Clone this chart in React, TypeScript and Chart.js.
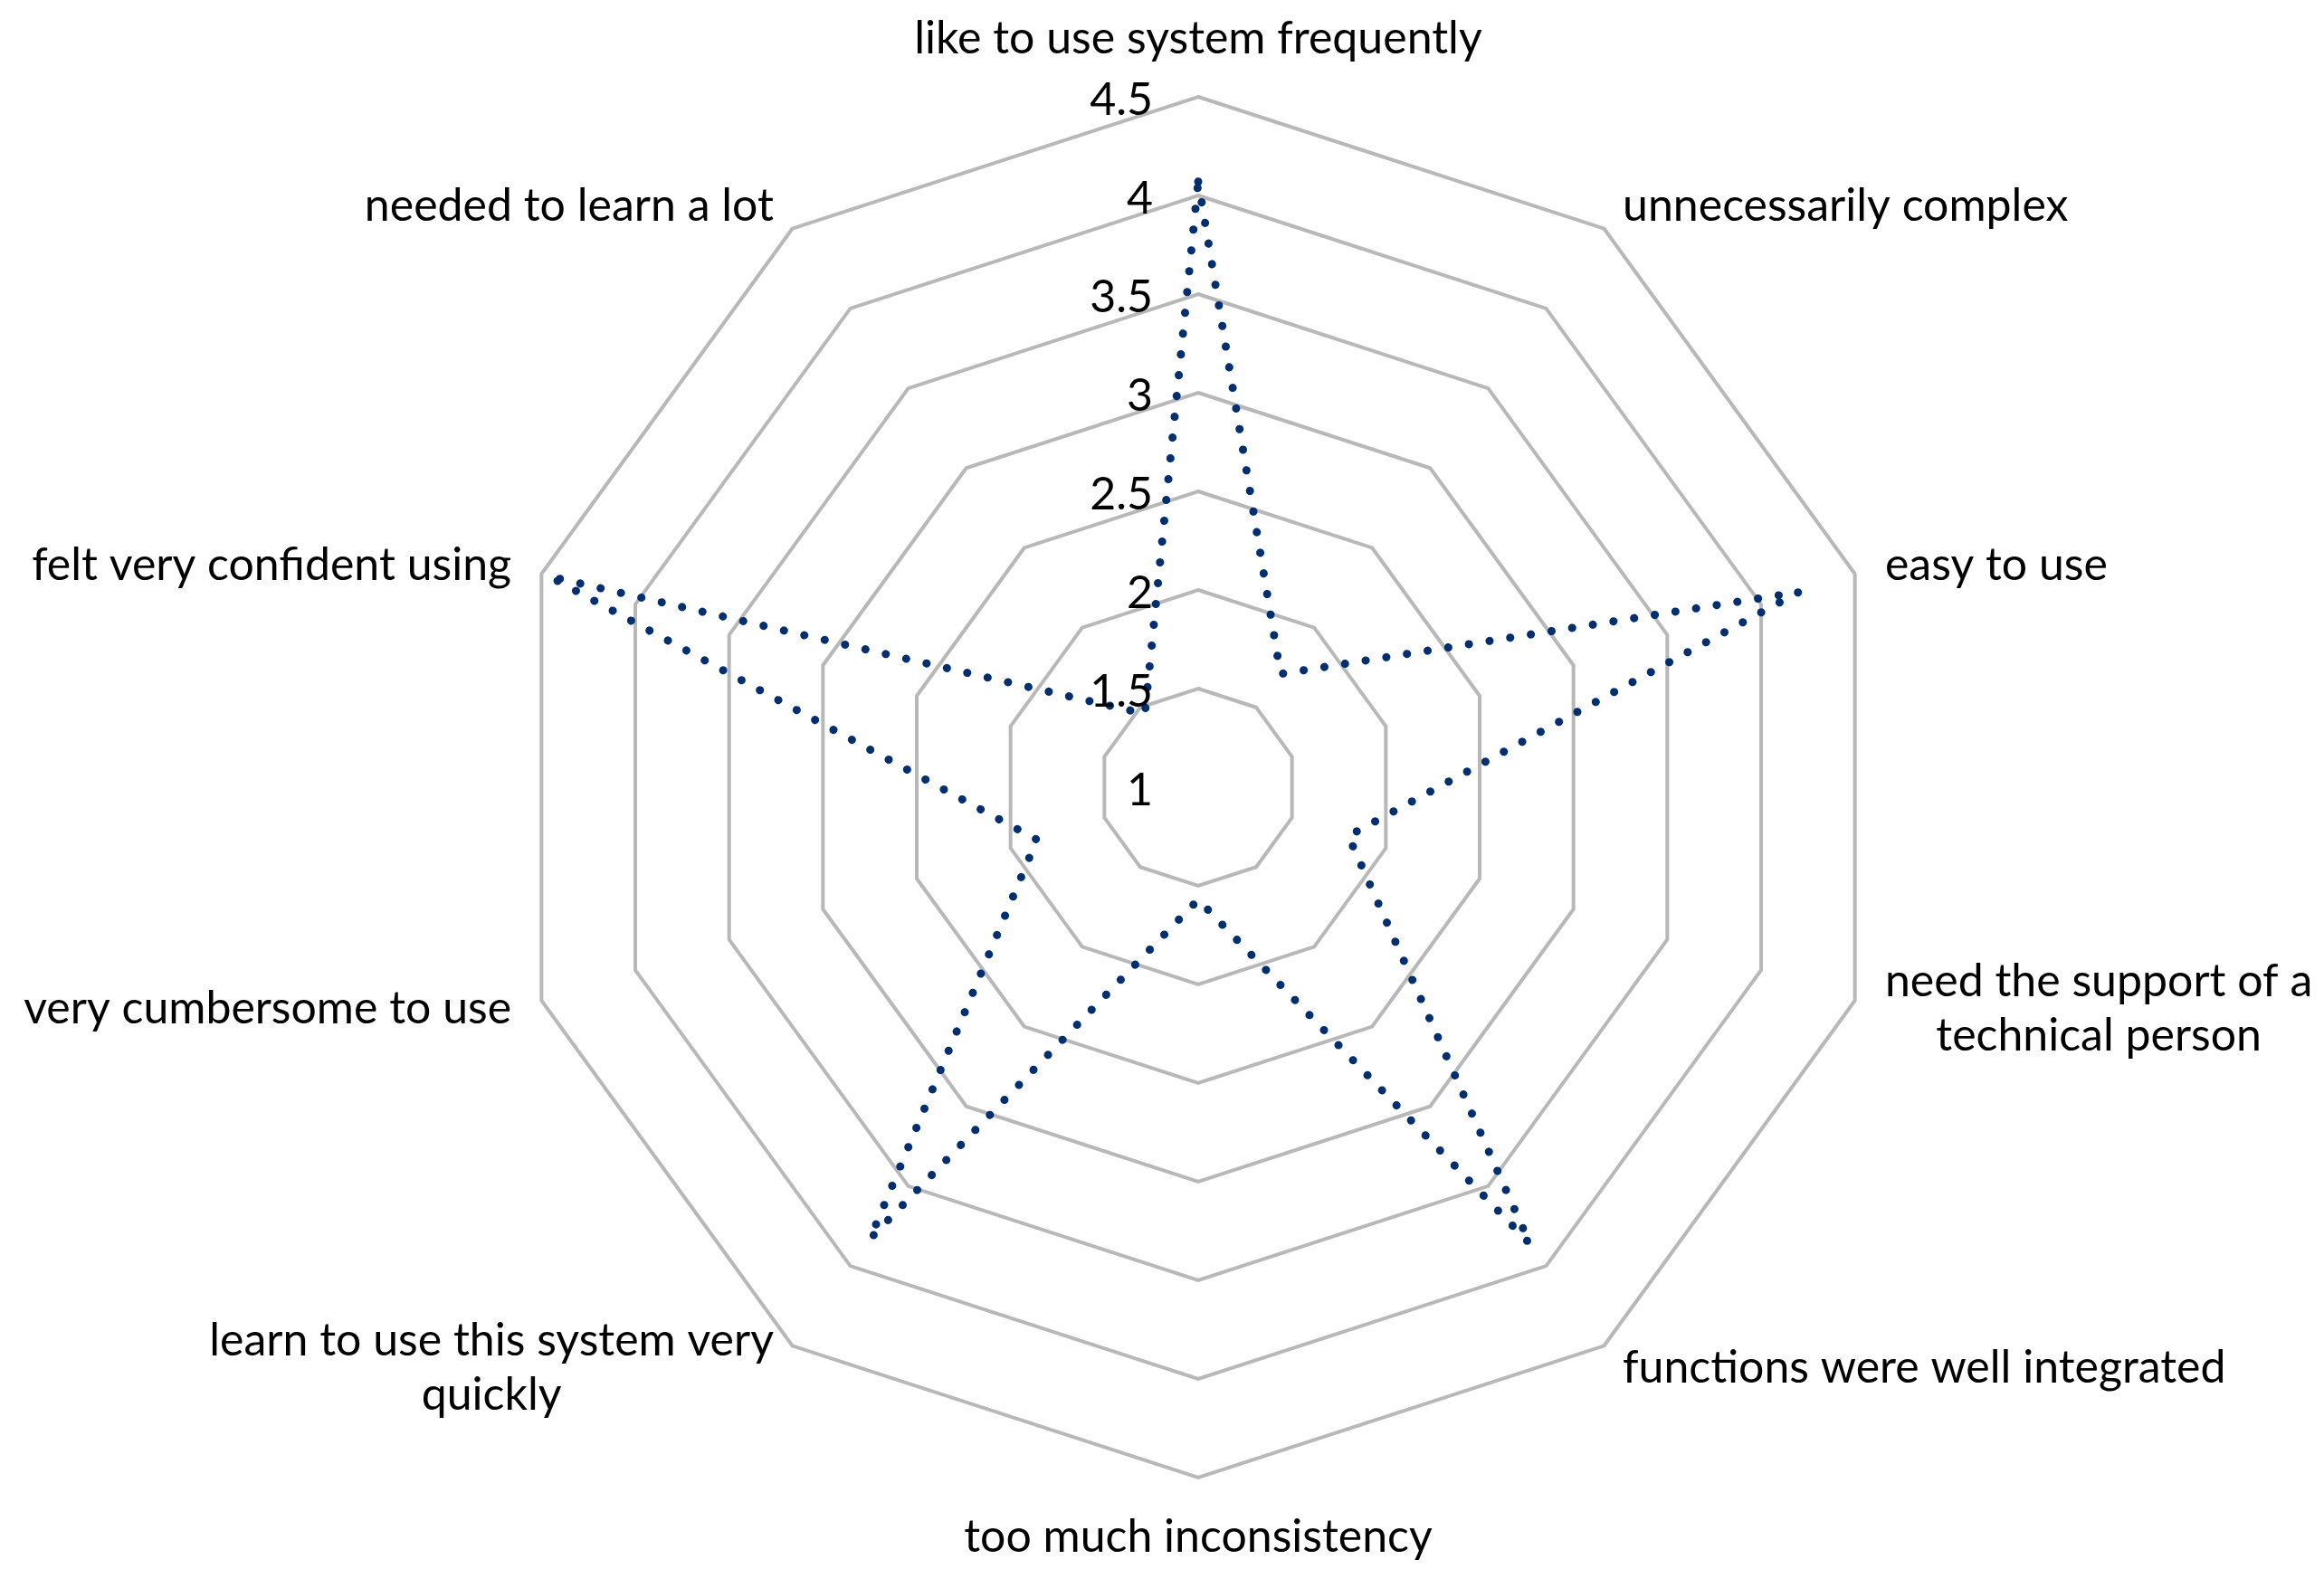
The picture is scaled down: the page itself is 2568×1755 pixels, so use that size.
import React, { useEffect, useRef } from 'react';
import { Chart, registerables } from 'chart.js';

Chart.register(...registerables);

// ---- data ----
const categories: (string | string[])[] = [
  'like to use system frequently',
  'unnecessarily complex',
  'easy to use',
  ['need the support of a', 'technical person'],
  'functions were well integrated',
  'too much inconsistency',
  ['learn to use this system very', 'quickly'],
  'very cumbersome to use',
  'felt very confident using',
  'needed to learn a lot',
];
const scores = [4.07, 1.71, 4.2, 1.8, 3.86, 1.57, 3.83, 1.86, 4.46, 1.46];
const tickValues = [1, 1.5, 2, 2.5, 3, 3.5, 4, 4.5];
const tickLabels = ['1', '1.5', '2', '2.5', '3', '3.5', '4', '4.5'];

// ---- style ----
const FONT = 'Lato, "Noto Sans", sans-serif';
const FONT_SIZE = 50;
const LINE_H = 60;

const labelPlugin = {
  id: 'excelLabels',
  afterDraw(chart: any) {
    const scale = chart.scales.r;
    const ctx = chart.ctx as CanvasRenderingContext2D;
    ctx.save();
    ctx.font = `${FONT_SIZE}px ${FONT}`;
    ctx.fillStyle = '#000';
    ctx.textBaseline = 'middle';
    ctx.textAlign = 'right';
    tickValues.forEach((v, i) => {
      const d = scale.getDistanceFromCenterForValue(v);
      ctx.fillText(tickLabels[i], scale.xCenter - 50, scale.yCenter - d + 4);
    });
    const labels = chart.data.labels as (string | string[])[];
    labels.forEach((lab, i) => {
      const pos = scale.getPointPosition(i, scale.drawingArea);
      const lines = ([] as string[]).concat(lab as any);
      const c = Math.cos(pos.angle);
      const s = Math.sin(pos.angle);
      const bw = Math.max(...lines.map((l) => ctx.measureText(l).width));
      let cx: number;
      let cy: number;
      if (Math.abs(c) < 0.05) {
        cx = pos.x;
        cy = pos.y + (s < 0 ? -64 : 66);
      } else {
        const ax = pos.x + c * 35;
        cx = c > 0 ? ax + bw / 2 : ax - bw / 2;
        cy = pos.y + s * 31;
      }
      const top = cy - ((lines.length - 1) * LINE_H) / 2;
      ctx.textAlign = 'center';
      lines.forEach((l, k) => ctx.fillText(l, cx, top + k * LINE_H));
    });
    ctx.restore();
  },
};

export default function App() {
  const ref = useRef<HTMLCanvasElement | null>(null);
  useEffect(() => {
    if (!ref.current) return;
    const chart = new Chart(ref.current, {
      type: 'radar',
      data: {
        labels: categories as any,
        datasets: [
          {
            data: scores,
            borderColor: '#002E6E',
            borderWidth: 9,
            borderDash: [0.1, 23],
            borderCapStyle: 'round',
            pointRadius: 0,
            pointHoverRadius: 0,
            fill: false,
            tension: 0,
          } as any,
        ],
      },
      options: {
        responsive: false,
        animation: false,
        layout: { padding: { left: 561, right: 481, top: 107, bottom: 122 } },
        plugins: { legend: { display: false }, tooltip: { enabled: false } },
        scales: {
          r: {
            min: 1,
            max: 4.5,
            ticks: { display: false, stepSize: 0.5 },
            grid: { color: '#B8B8B8', lineWidth: 4 },
            angleLines: { display: false },
            pointLabels: { display: false },
          },
        },
      },
      plugins: [labelPlugin],
    });
    return () => chart.destroy();
  }, []);
  return (
    <div style={{ position: 'fixed', left: 0, top: 0, width: 2568, height: 1755, background: '#fff' }}>
      <canvas ref={ref} width={2568} height={1755} style={{ width: 2568, height: 1755, display: 'block' }} />
    </div>
  );
}
